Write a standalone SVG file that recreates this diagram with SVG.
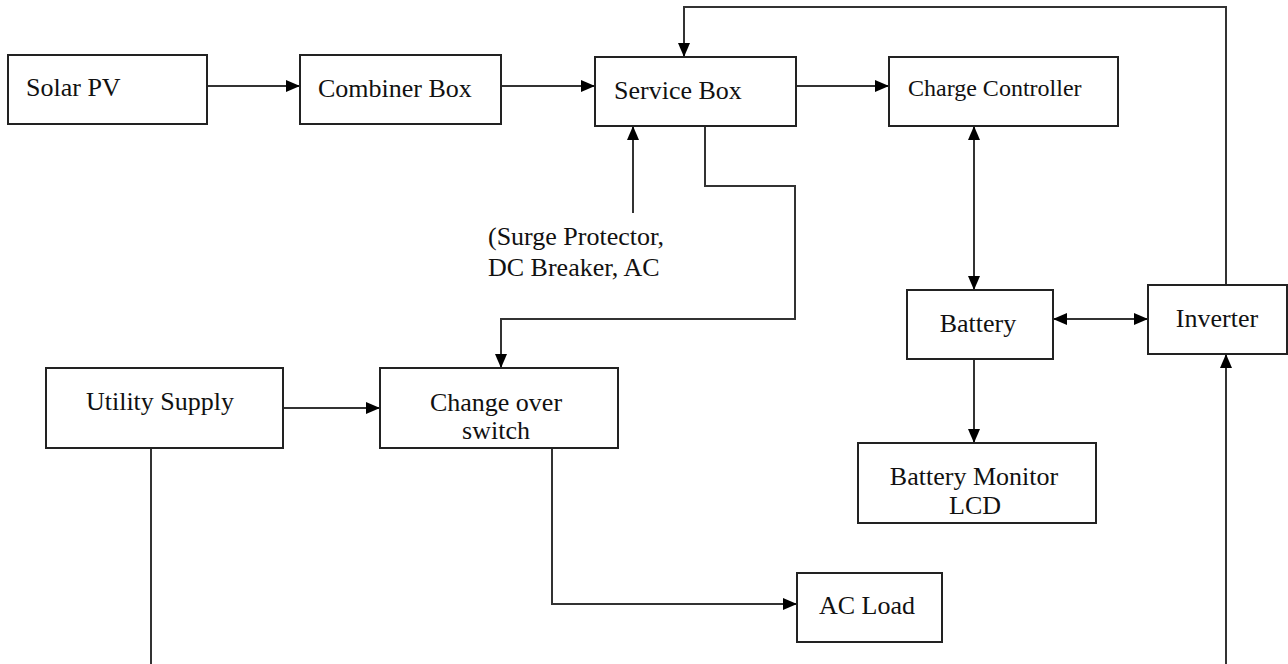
<svg xmlns="http://www.w3.org/2000/svg" width="1288" height="664" viewBox="0 0 1288 664">
<style>
.box{fill:#fff;stroke:#222;stroke-width:2}
.t{font-family:"Liberation Serif","Times New Roman",serif;font-size:26px;fill:#111}
.m{text-anchor:middle}
.ln{fill:none;stroke:#333;stroke-width:2}
</style>
<defs>
<marker id="ah" markerUnits="userSpaceOnUse" markerWidth="14" markerHeight="14" refX="14" refY="7" orient="auto-start-reverse" viewBox="0 0 14 14">
<path d="M0,1 L14,7 L0,13 z" fill="#000"/>
</marker>
</defs>
<rect width="1288" height="664" fill="#fff"/>
<g id="connectors">
<line class="ln" x1="207" y1="86" x2="300" y2="86" marker-end="url(#ah)"/>
<line class="ln" x1="501" y1="86" x2="595" y2="86" marker-end="url(#ah)"/>
<line class="ln" x1="796" y1="86" x2="889" y2="86" marker-end="url(#ah)"/>
<polyline class="ln" points="1226,285 1226,7 684,7 684,57" marker-end="url(#ah)"/>
<line class="ln" x1="633" y1="213" x2="633" y2="126" marker-end="url(#ah)"/>
<polyline class="ln" points="705,126 705,186 795,186 795,319 501,319 501,368" marker-end="url(#ah)"/>
<line class="ln" x1="974" y1="126" x2="974" y2="290" marker-start="url(#ah)" marker-end="url(#ah)"/>
<line class="ln" x1="1053" y1="319" x2="1148" y2="319" marker-start="url(#ah)" marker-end="url(#ah)"/>
<line class="ln" x1="974" y1="359" x2="974" y2="443" marker-end="url(#ah)"/>
<line class="ln" x1="283" y1="408" x2="380" y2="408" marker-end="url(#ah)"/>
<line class="ln" x1="151" y1="448" x2="151" y2="664"/>
<polyline class="ln" points="552,448 552,604 797,604" marker-end="url(#ah)"/>
<line class="ln" x1="1226" y1="664" x2="1226" y2="354" marker-end="url(#ah)"/>
</g>
<g id="solar-pv"><rect class="box" x="8" y="55" width="199" height="69"/><text class="t" x="26" y="96">Solar PV</text></g>
<g id="combiner-box"><rect class="box" x="300" y="55" width="201" height="69"/><text class="t" x="318" y="97">Combiner Box</text></g>
<g id="service-box"><rect class="box" x="595" y="57" width="201" height="69"/><text class="t" x="614" y="99">Service Box</text></g>
<g id="charge-controller"><rect class="box" x="889" y="57" width="229" height="69"/><text class="t" x="908" y="96" style="font-size:24px">Charge Controller</text></g>
<g id="surge-label"><text class="t" x="488" y="245">(Surge Protector,</text><text class="t" x="488" y="276">DC Breaker, AC</text></g>
<g id="battery"><rect class="box" x="907" y="290" width="146" height="69"/><text class="t m" x="978" y="332">Battery</text></g>
<g id="inverter"><rect class="box" x="1148" y="285" width="139" height="69"/><text class="t m" x="1217" y="327">Inverter</text></g>
<g id="battery-monitor"><rect class="box" x="858" y="443" width="238" height="80"/><text class="t m" x="974" y="485">Battery Monitor</text><text class="t m" x="975" y="514">LCD</text></g>
<g id="utility-supply"><rect class="box" x="46" y="368" width="237" height="80"/><text class="t m" x="160" y="410">Utility Supply</text></g>
<g id="change-over"><rect class="box" x="380" y="368" width="238" height="80"/><text class="t m" x="496" y="411">Change over</text><text class="t m" x="496" y="439">switch</text></g>
<g id="ac-load"><rect class="box" x="797" y="573" width="145" height="69"/><text class="t m" x="867" y="614">AC Load</text></g>
</svg>
